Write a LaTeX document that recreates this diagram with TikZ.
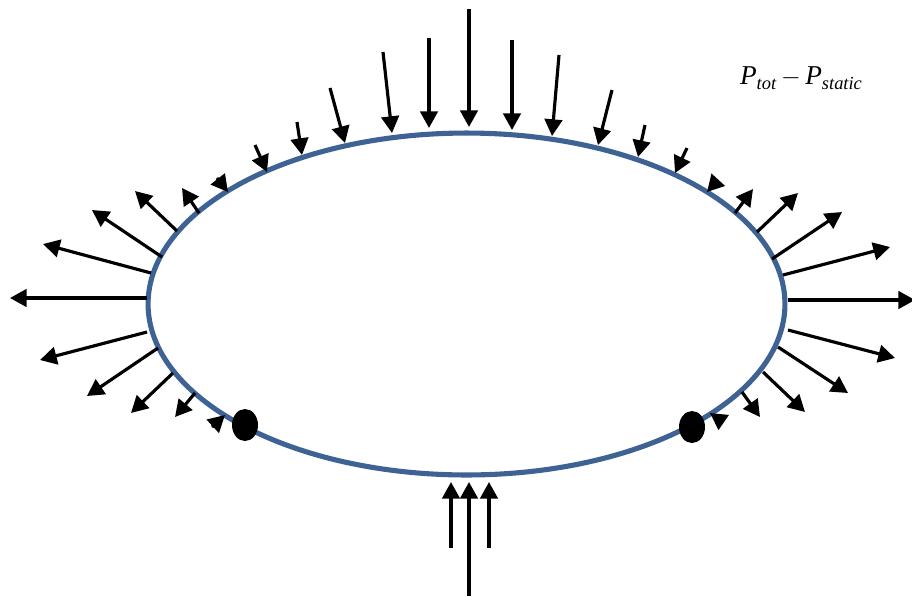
\documentclass[tikz,border=0pt]{standalone}
\usepackage{fontspec}
\setmainfont{Liberation Serif}
\usetikzlibrary{arrows.meta}
\definecolor{shellcolor}{RGB}{62,98,148}
\newcommand{\lowsub}[1]{\raisebox{-0.45ex}{\fontsize{10.5}{12}\selectfont\textit{#1}}}

\begin{document}
\begin{tikzpicture}[
  x=0.02cm, y=-0.02cm,
  shell/.style={draw=shellcolor, line width=2.9pt},
  force/.style={line width=1.8pt, -{Triangle[length=9.5pt, width=10pt]}},
  probe/.style={fill=black},
]
\useasboundingbox (0,0) rectangle (912,596);

% ---------- body ----------
\draw[shell] (466.5,304) ellipse [x radius=6.37cm, y radius=3.42cm];

% ---------- pressure on the upper side (inward) ----------
\foreach \tx/\ty/\hx/\hy in {255/145/267/172, 297/122/302/155, 330/88/345/143,
    383/52/392/133, 429/38/429/128, 469/9/469/127, 512/40/512/130,
    559/55/552/136, 612/90/598/145, 645/125/638/157, 687/148/675/173,
    718/180/707/192, 217/178/228/192}
  \draw[force] (\tx,\ty) -- (\hx,\hy);

% ---------- suction on the sides (outward) ----------
\foreach \tx/\ty/\hx/\hy in {735/213/753/189, 757/232/798/193, 772/259/842/212,
    783/275/890/247, 788/300/915/300, 788/330/895/358, 778/347/848/393,
    763/372/805/412, 742/392/760/417,
    199/213/182/188, 177/231/135/191, 162/257/92/210, 151/273/43/244,
    147/298/10/298, 147/332/40/360, 158/348/87/396, 173/373/131/413,
    195/393/175/417}
  \draw[force] (\tx,\ty) -- (\hx,\hy);

% ---------- near the probes and underneath ----------
\draw[force] (723,422) -- (710,413);
\draw[force] (212,427) -- (225,415);
\draw[force] (451,548) -- (451,482);
\draw[force] (469,596) -- (469,482);
\draw[force] (489,548) -- (489,482);

% ---------- probes ----------
\fill[probe] (245,425) ellipse [x radius=0.26cm, y radius=0.32cm];
\fill[probe] (692,427) ellipse [x radius=0.26cm, y radius=0.32cm];

\node[font=\fontsize{15.5}{18}\selectfont] (label) at (801,78)
  {\textit{P}\lowsub{tot}\,$-$\,\textit{P}\lowsub{static}};

\end{tikzpicture}
\end{document}
